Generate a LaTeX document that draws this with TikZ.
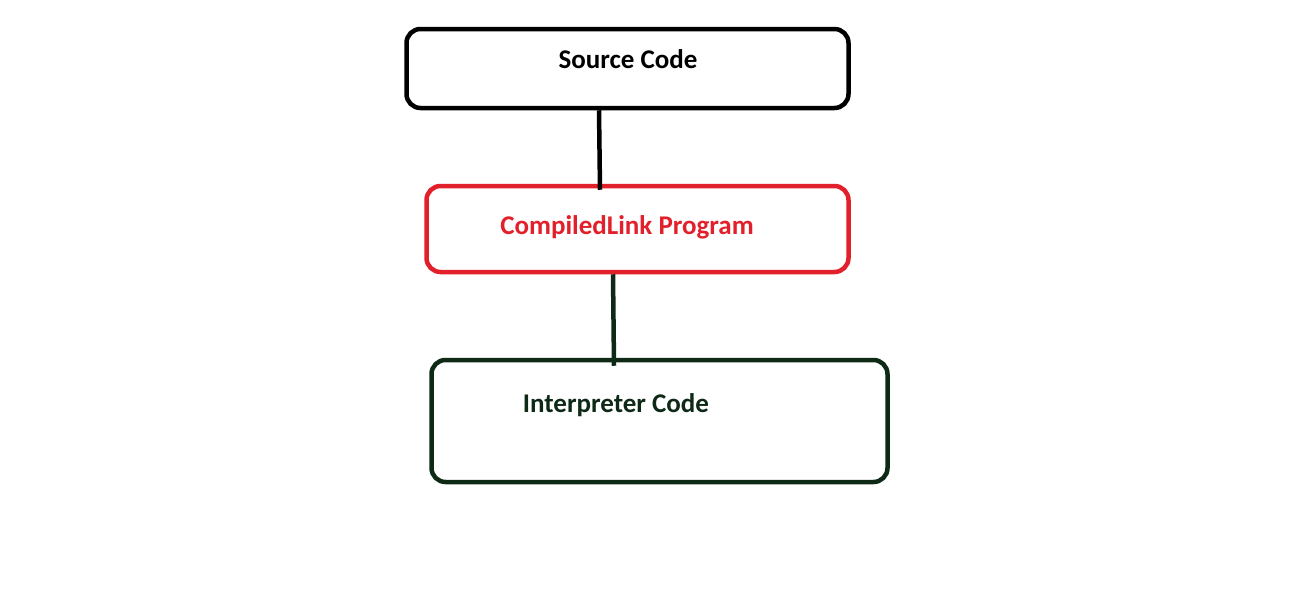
\documentclass[tikz,border=0pt]{standalone}
\usepackage{fontspec}
\setmainfont{Carlito}
\usepackage{tikz}

\definecolor{boxred}{HTML}{E2202B}
\definecolor{boxgreen}{HTML}{0E2916}

\tikzset{
    box/.style={draw, line width=4.5pt, rounded corners=14pt, inner sep=0pt},
    label/.style={font=\fontsize{27}{32}\selectfont\bfseries, inner sep=0pt},
    conn/.style={line width=4.5pt}
}

\begin{document}
\begin{tikzpicture}[x=1pt,y=-1pt]
        \useasboundingbox (0,0) rectangle (1296,597);

        % Source code
        \node[box, minimum width=442pt, minimum height=79pt] (src) at (627.5,68.5) {};
        \node[label] (srctext) at (628,59) {Source Code};

        % Compiled program
        \node[box, boxred, minimum width=422pt, minimum height=86pt] (cmp) at (637.5,229) {};
        \node[label, text=boxred] (cmptext) at (627,227) {CompiledLink Program};

        % Interpreter
        \node[box, boxgreen, minimum width=456pt, minimum height=122pt] (itp) at (659.5,421) {};
        \node[label, text=boxgreen] (itptext) at (616,405) {Interpreter Code};

        % Links
        \draw[conn] (src.south -| 599,0) -- ([yshift=-6pt]cmp.north -| 600,0);
        \draw[conn, boxgreen] (cmp.south -| 613,0) -- ([yshift=-8pt]itp.north -| 614,0);
    \end{tikzpicture}
\end{document}
